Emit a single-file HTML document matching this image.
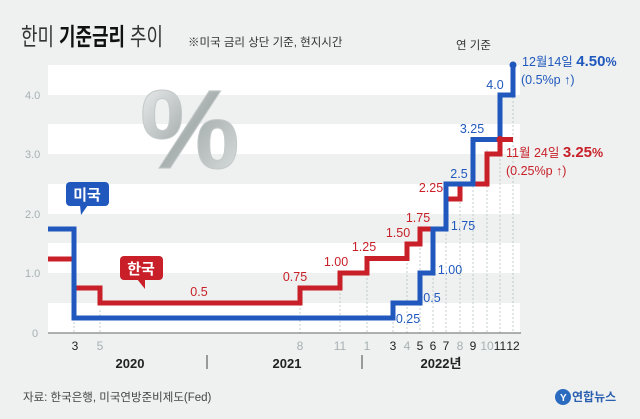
<!DOCTYPE html>
<html><head><meta charset="utf-8"><style>
body{margin:0;width:640px;height:414px;overflow:hidden;background:#eef1f0;font-family:"Liberation Sans","Noto Sans CJK KR",sans-serif}
</style></head><body>
<svg width="640" height="414" viewBox="0 0 640 414" xmlns="http://www.w3.org/2000/svg" font-family="Liberation Sans, Noto Sans CJK KR, sans-serif">
<defs><linearGradient id="pg" x1="0" y1="0" x2="1" y2="1"><stop offset="0" stop-color="#f7f8f8"/><stop offset="0.5" stop-color="#a9b0b0"/><stop offset="1" stop-color="#e0e4e4"/></linearGradient></defs>
<rect width="640" height="414" fill="#eef1f0"/>
<g fill="#ffffff">
<rect x="48" y="65" width="472" height="30"/>
<rect x="48" y="124" width="472" height="30"/>
<rect x="48" y="184" width="472" height="30"/>
<rect x="48" y="243" width="472" height="30"/>
<rect x="48" y="303" width="472" height="30"/>
</g>
<text x="21" y="45" font-size="24" fill="#333" textLength="142" lengthAdjust="spacingAndGlyphs">한미 <tspan font-weight="bold" fill="#111">기준금리</tspan> 추이</text>
<text x="188" y="46" font-size="11.5" fill="#333">※미국 금리 상단 기준, 현지시간</text>
<text x="456" y="49" font-size="11.5" fill="#333">연 기준</text>
<text x="140" y="168" font-size="112" font-weight="bold" fill="url(#pg)" stroke="#c4c9c9" stroke-width="1">%</text>
<g font-size="11" fill="#a7b0b2">
<text x="25" y="99">4.0</text><text x="25" y="158">3.0</text><text x="25" y="218">2.0</text><text x="25" y="277">1.0</text><text x="32" y="337">0</text>
</g>
<g stroke="#b8c0c2" stroke-width="0.8" stroke-dasharray="2,2">
<line x1="74" y1="290" x2="74" y2="333"/><line x1="100" y1="310" x2="100" y2="333"/>
<line x1="300" y1="300" x2="300" y2="333"/><line x1="340" y1="285" x2="340" y2="333"/>
<line x1="367" y1="270" x2="367" y2="333"/><line x1="393" y1="310" x2="393" y2="333"/>
<line x1="407" y1="255" x2="407" y2="333"/><line x1="420" y1="240" x2="420" y2="333"/>
<line x1="433" y1="230" x2="433" y2="333"/><line x1="446" y1="190" x2="446" y2="333"/>
<line x1="460" y1="190" x2="460" y2="333"/><line x1="473" y1="150" x2="473" y2="333"/>
<line x1="487" y1="150" x2="487" y2="333"/><line x1="500" y1="135" x2="500" y2="333"/>
<line x1="513" y1="65" x2="513" y2="333"/>
</g>
<line x1="48" y1="333" x2="521" y2="333" stroke="#666" stroke-width="1"/>
<polyline fill="none" stroke="#c81f28" stroke-width="5" points="48,259 74,259 74,288 100,288 100,303 300,303 300,288 340,288 340,273 367,273 367,258.5 407,258.5 407,244 420,244 420,229 446,229 446,199 460,199 460,184 487,184 487,154 500,154 500,139.5 513,139.5"/>
<polyline fill="none" stroke="#2058bd" stroke-width="5" points="48,229 74,229 74,318 393,318 393,303 420,303 420,273 433,273 433,229 446,229 446,184 473,184 473,139.5 500,139.5 500,95 513,95 513,65"/>
<circle cx="513" cy="65" r="3.5" fill="#2058bd"/>
<circle cx="500" cy="139.5" r="3.5" fill="#c81f28"/>
<rect x="66" y="182" width="43" height="24" rx="4" fill="#2058bd"/><polygon points="80,205 88,205 81,215" fill="#2058bd"/>
<text x="87" y="200" font-size="15" font-weight="bold" fill="#fff" text-anchor="middle">미국</text>
<rect x="120" y="256" width="43" height="24" rx="4" fill="#c81f28"/><polygon points="137,279 145,279 145,289" fill="#c81f28"/>
<text x="141" y="274" font-size="15" font-weight="bold" fill="#fff" text-anchor="middle">한국</text>
<g font-size="12.5" fill="#c81f28" text-anchor="middle">
<text x="199" y="296">0.5</text><text x="295" y="281">0.75</text><text x="336" y="266">1.00</text><text x="364" y="251">1.25</text><text x="398" y="237">1.50</text><text x="418" y="222">1.75</text><text x="431" y="192">2.25</text>
</g>
<g font-size="12.5" fill="#2058bd" text-anchor="middle">
<text x="408" y="323">0.25</text><text x="432" y="302">0.5</text><text x="450" y="274">1.00</text><text x="463" y="230">1.75</text><text x="459" y="178">2.5</text><text x="472" y="133">3.25</text><text x="495" y="89">4.0</text>
</g>
<text x="522" y="66" font-size="12.5" fill="#2058bd">12월14일 <tspan font-weight="bold" font-size="15">4.50</tspan><tspan font-weight="bold">%</tspan></text>
<text x="521" y="84" font-size="12.5" fill="#2058bd">(0.5%p ↑)</text>
<text x="506" y="157" font-size="12.5" fill="#c81f28">11월 24일 <tspan font-weight="bold" font-size="15">3.25</tspan><tspan font-weight="bold">%</tspan></text>
<text x="506" y="175" font-size="12.5" fill="#c81f28">(0.25%p ↑)</text>
<g font-size="12" text-anchor="middle" fill="#222">
<text x="75" y="350">3</text><text x="100" y="350" fill="#a7b0b2">5</text>
<text x="300" y="350" fill="#a7b0b2">8</text><text x="340" y="350" fill="#a7b0b2">11</text><text x="367" y="350" fill="#a7b0b2">1</text>
<text x="393" y="350">3</text><text x="407" y="350" fill="#a7b0b2">4</text><text x="420" y="350">5</text><text x="433" y="350">6</text><text x="446" y="350">7</text><text x="460" y="350" fill="#a7b0b2">8</text><text x="473" y="350">9</text><text x="487" y="350" fill="#a7b0b2">10</text><text x="500" y="350">11</text><text x="513" y="350">12</text>
</g>
<g font-size="13" font-weight="bold" fill="#222" text-anchor="middle">
<text x="130" y="368">2020</text><text x="287" y="368">2021</text><text x="441" y="368">2022년</text>
</g>
<line x1="207" y1="355" x2="207" y2="369" stroke="#444"/><line x1="362" y1="355" x2="362" y2="369" stroke="#444"/>
<text x="23" y="401" font-size="11.5" fill="#444">자료: 한국은행, 미국연방준비제도(Fed)</text>
<circle cx="563" cy="397" r="8" fill="#2a6bc0"/>
<text x="560" y="401" font-size="10" font-weight="bold" fill="#fff">Y</text>
<text x="572" y="401" font-size="12" font-weight="bold" fill="#2a5fb0">연합뉴스</text>
</svg>
</body></html>
